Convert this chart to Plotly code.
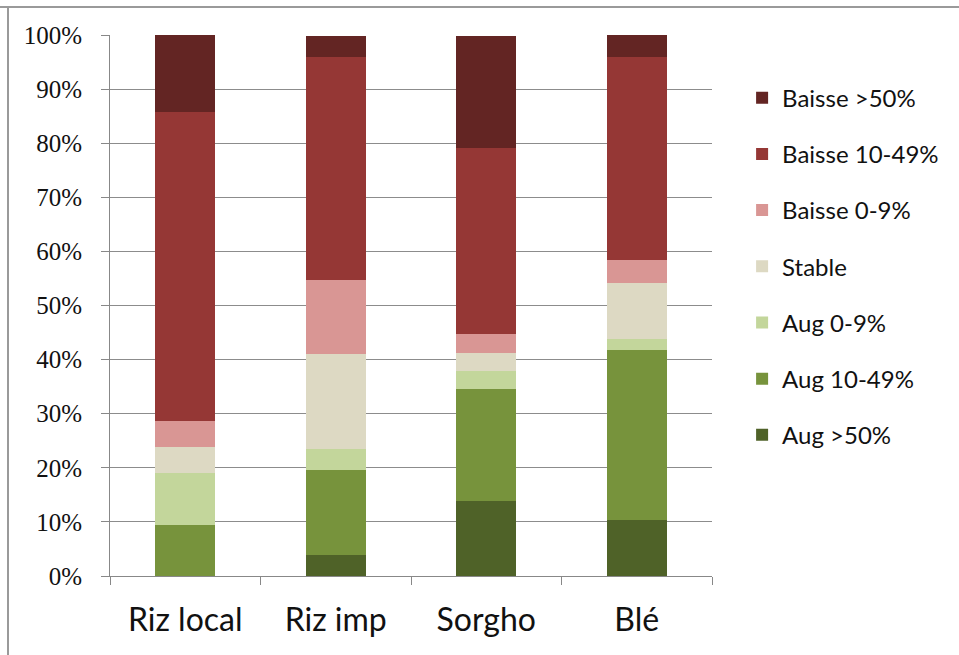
import plotly.graph_objects as go

categories = ["Riz local", "Riz imp", "Sorgho", "Blé"]

series_names = ["Aug >50%", "Aug 10-49%", "Aug 0-9%", "Stable",
                "Baisse 0-9%", "Baisse 10-49%", "Baisse >50%"]

aug_50 = [0.0, 3.9, 13.8, 10.4]
aug_10_49 = [9.5, 15.7, 20.7, 31.3]
aug_0_9 = [9.5, 3.9, 3.4, 2.1]
stable = [4.8, 17.6, 3.4, 10.4]
baisse_0_9 = [4.8, 13.7, 3.4, 4.2]
baisse_10_49 = [57.1, 41.2, 34.5, 37.5]
baisse_50 = [14.3, 3.9, 20.7, 4.2]

series_values = [aug_50, aug_10_49, aug_0_9, stable,
                 baisse_0_9, baisse_10_49, baisse_50]

colors = ["#4F6228", "#77933C", "#C3D69B", "#DDD9C3",
          "#D99694", "#953735", "#632523"]

y_ticks = [0, 10, 20, 30, 40, 50, 60, 70, 80, 90, 100]
y_tick_labels = [f"{v}%" for v in y_ticks]

fig = go.Figure()
n = len(series_names)
for i, (name, vals, col) in enumerate(zip(series_names, series_values, colors)):
    fig.add_trace(go.Bar(
        x=categories, y=vals, name=name, legendgroup=name,
        legendrank=n - i,  # top of the stack listed first
        marker=dict(color=col, line=dict(width=0)),
    ))

fig.update_layout(
    width=959, height=655,
    barmode="stack", bargap=0.6,
    plot_bgcolor="white", paper_bgcolor="white",
    margin=dict(l=110, r=247, t=35, b=79),
    showlegend=True,
    legend=dict(
        x=1.05, xanchor="left", y=0.925, yanchor="top",
        traceorder="grouped", tracegroupgap=22,
        font=dict(family="Lato", size=24, color="#111111"),
        itemwidth=30, bgcolor="rgba(0,0,0,0)",
    ),
    xaxis=dict(
        showline=True, linecolor="#888888", linewidth=1,
        ticks="outside", ticklen=8, tickcolor="#888888", tickson="boundaries",
        tickfont=dict(family="Lato", size=32, color="#111111"),
        ticklabelstandoff=16,
    ),
    yaxis=dict(
        range=[0, 100], tickvals=y_ticks, ticktext=y_tick_labels,
        showgrid=True, gridcolor="#8c8c8c", gridwidth=1,
        showline=True, linecolor="#888888", linewidth=1,
        ticks="outside", ticklen=8, tickcolor="#888888",
        tickfont=dict(family="Liberation Serif", size=25, color="#111111"),
        ticklabelstandoff=14, zeroline=False,
    ),
    shapes=[
        dict(type="line", xref="paper", yref="paper",
             x0=-110 / 602, x1=2.0, y0=(655 - 7 - 79) / 541, y1=(655 - 7 - 79) / 541,
             line=dict(color="#9a9a9a", width=2)),
        dict(type="line", xref="paper", yref="paper",
             x0=-102 / 602, x1=-102 / 602, y0=-1.0, y1=(655 - 7 - 79) / 541,
             line=dict(color="#9a9a9a", width=2)),
    ],
)

fig.write_html("out.html")
